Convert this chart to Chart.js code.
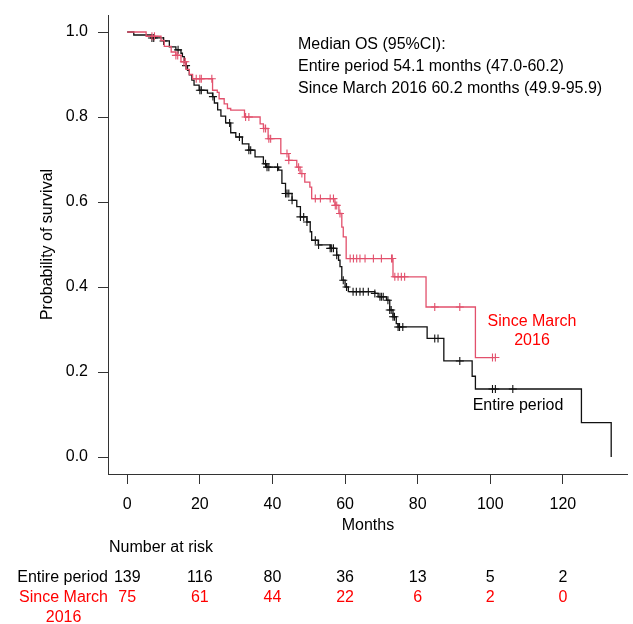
<!DOCTYPE html>
<html>
<head>
<meta charset="utf-8">
<script src="https://cdn.jsdelivr.net/npm/chart.js@4.4.1/dist/chart.umd.min.js"></script>
<style>
html,body{margin:0;padding:0;background:#fff;}
#wrap{width:633px;height:624px;position:relative;}
</style>
</head>
<body>
<div id="wrap"><canvas id="c" width="633" height="624"></canvas></div>
<script>
// ---- data ----
const entireTimes = [0,1.8,6.6,10.0,11.6,13.4,14.8,15.2,15.7,16.2,16.6,17.1,17.8,18.4,19.8,22.1,23.5,24.0,24.9,25.8,27.1,28.5,29.9,31.7,33.5,35.2,37.5,38.4,41.7,42.6,43.6,45.4,46.7,47.7,49.5,50.4,50.8,52.6,55.9,57.7,58.2,58.6,59.1,60.0,60.9,68.2,69.1,71.4,72.3,73.2,74.1,74.6,82.6,87.2,95.0,95.9,125.1,133.3];
const entireSurv = [1,0.993,0.986,0.979,0.965,0.958,0.950,0.942,0.928,0.921,0.910,0.899,0.887,0.875,0.863,0.856,0.848,0.833,0.817,0.802,0.786,0.763,0.753,0.737,0.722,0.706,0.690,0.682,0.675,0.644,0.620,0.604,0.589,0.565,0.553,0.530,0.510,0.499,0.491,0.475,0.463,0.448,0.416,0.400,0.389,0.385,0.377,0.369,0.346,0.330,0.314,0.306,0.279,0.226,0.190,0.160,0.081,0];
const entireCensor = [6.8,7.3,10.0,14.0,16.2,20.0,20.4,23.6,28.2,30.9,33.5,34.0,38.1,38.5,39.0,41.4,43.6,44.0,44.5,45.4,47.7,48.6,49.5,51.8,52.7,55.9,56.3,56.8,57.7,59.5,60.4,62.2,63.1,64.1,65.0,66.4,68.2,69.6,70.0,70.5,71.8,72.3,72.7,73.2,73.6,74.6,75.0,75.9,84.7,85.6,91.6,100.6,101.4,106.2];

const marchTimes = [0,5.2,9.3,10.2,12.1,13.4,14.8,16.2,17.1,18.0,23.5,24.8,25.3,26.7,27.6,28.5,32.3,36.6,37.5,38.8,42.3,44.5,46.7,47.6,48.9,50.3,50.8,57.2,58.3,59.1,59.5,60.3,73.2,82.3,95.9,101.4];
const marchSurv = [1,0.990,0.980,0.966,0.953,0.945,0.930,0.912,0.900,0.890,0.863,0.858,0.843,0.831,0.820,0.816,0.800,0.784,0.773,0.749,0.714,0.698,0.682,0.667,0.647,0.635,0.608,0.592,0.573,0.541,0.518,0.467,0.424,0.353,0.234,0.234];
const marchCensor = [6.8,7.5,13.4,13.9,15.6,16.0,19.0,20.0,20.4,23.3,32.6,33.5,37.6,38.1,39.0,39.5,44.0,44.5,47.2,48.1,51.8,53.2,55.9,56.8,57.3,57.7,58.6,61.4,62.3,63.2,64.1,65.5,67.8,70.0,72.8,73.0,73.7,74.6,75.5,76.4,84.7,91.6,100.6,101.4];

const xTicks = [0,20,40,60,80,100,120];
const yTicks = [0,0.2,0.4,0.6,0.8,1.0];

const riskTimes = [0,20,40,60,80,100,120];
const riskEntire = [139,116,80,36,13,5,2];
const riskMarch = [75,61,44,22,6,2,0];

const seriesNames = ['Entire period', 'Since March 2016'];
const medianTitle = 'Median OS (95%CI):';
const medianLines = ['Entire period 54.1 months (47.0-60.2)', 'Since March 2016 60.2 months (49.9-95.9)'];

// ---- helpers ----
function stepAt(times, surv, t) {
  let s = surv[0];
  for (let i = 0; i < times.length; i++) { if (times[i] <= t) s = surv[i]; }
  return s;
}
const toPts = (times, surv) => times.map((t, i) => ({x: t, y: surv[i]}));
const censorPts = (c, times, surv) => c.map(t => ({x: t, y: stepAt(times, surv, t)}));

const FONT = '"Liberation Sans", Arial, Helvetica, sans-serif';
const BLACK = '#111111';
const CURVE_RED = '#e2506c';
const TEXT_RED = '#ff0000';

const textPlugin = {
  id: 'kmText',
  afterDraw(chart) {
    const ctx = chart.ctx;
    const xs = chart.scales.x;
    const ca = chart.chartArea;
    ctx.save();
    ctx.font = '16px ' + FONT;
    ctx.textBaseline = 'middle';
    // y title
    ctx.save();
    ctx.translate(48, (ca.top + ca.bottom) / 2);
    ctx.rotate(-Math.PI / 2);
    ctx.textAlign = 'center';
    ctx.fillStyle = '#000';
    ctx.fillText('Probability of survival', 0, 0);
    ctx.restore();
    // x title
    ctx.textAlign = 'center';
    ctx.fillStyle = '#000';
    ctx.fillText('Months', (ca.left + ca.right) / 2, 526);
    // median text
    ctx.textAlign = 'left';
    ctx.fillText(medianTitle, 298, 45);
    ctx.fillText(medianLines[0], 298, 67);
    ctx.fillText(medianLines[1], 298, 89);
    // curve labels
    ctx.textAlign = 'center';
    ctx.fillStyle = TEXT_RED;
    ctx.fillText('Since March', 532, 322);
    ctx.fillText('2016', 532, 341);
    ctx.fillStyle = '#000';
    ctx.fillText(seriesNames[0], 518, 406);
    // number at risk
    ctx.textAlign = 'left';
    ctx.fillText('Number at risk', 109, 548);
    ctx.textAlign = 'right';
    ctx.fillText(seriesNames[0], 108, 578);
    ctx.fillStyle = TEXT_RED;
    ctx.fillText('Since March', 108, 598);
    ctx.textAlign = 'center';
    const w = ctx.measureText('Since March').width;
    ctx.fillText('2016', 108 - w / 2, 618);
    riskTimes.forEach((t, i) => {
      const px = xs.getPixelForValue(t);
      ctx.fillStyle = '#000';
      ctx.fillText(String(riskEntire[i]), px, 578);
      ctx.fillStyle = TEXT_RED;
      ctx.fillText(String(riskMarch[i]), px, 598);
    });
    ctx.restore();
  }
};

new Chart(document.getElementById('c'), {
  type: 'line',
  data: {
    datasets: [
      { label: seriesNames[0], data: toPts(entireTimes, entireSurv), stepped: 'before',
        borderColor: BLACK, borderWidth: 1.3, pointRadius: 0, fill: false, order: 2 },
      { label: seriesNames[1], data: toPts(marchTimes, marchSurv), stepped: 'before',
        borderColor: CURVE_RED, borderWidth: 1.3, pointRadius: 0, fill: false, order: 1 },
      { label: 'censor1', data: censorPts(entireCensor, entireTimes, entireSurv), showLine: false,
        pointStyle: 'cross', pointRadius: 4, pointBorderWidth: 1.1, borderColor: BLACK, backgroundColor: BLACK, order: 2 },
      { label: 'censor2', data: censorPts(marchCensor, marchTimes, marchSurv), showLine: false,
        pointStyle: 'cross', pointRadius: 4, pointBorderWidth: 1.1, borderColor: CURVE_RED, backgroundColor: CURVE_RED, order: 1 }
    ]
  },
  options: {
    responsive: false,
    animation: false,
    devicePixelRatio: 1,
    layout: { padding: { top: 15, right: 2, left: 0, bottom: 0 } },
    plugins: { legend: { display: false }, tooltip: { enabled: false } },
    elements: { point: { hoverRadius: 0 } },
    scales: {
      x: {
        type: 'linear', min: -5.3, max: 137.9,
        afterBuildTicks: s => { s.ticks = xTicks.map(v => ({value: v})); },
        afterFit: s => { s.height = 150; s.paddingLeft = 0; s.paddingRight = 0; },
        grid: { drawOnChartArea: false, drawTicks: true, tickLength: 10, color: '#333', lineWidth: 1 },
        border: { display: true, color: '#333', width: 1 },
        ticks: { font: { family: FONT, size: 16 }, color: '#000', padding: 11, maxRotation: 0, autoSkip: false }
      },
      y: {
        min: -0.04, max: 1.04,
        afterBuildTicks: s => { s.ticks = yTicks.map(v => ({value: v})); },
        afterFit: s => { s.width = 108; s.paddingTop = 0; s.paddingBottom = 0; },
        grid: { drawOnChartArea: false, drawTicks: true, tickLength: 10, color: '#333', lineWidth: 1 },
        border: { display: true, color: '#333', width: 1 },
        ticks: { font: { family: FONT, size: 16 }, color: '#000', padding: 10, callback: v => Number(v).toFixed(1) }
      }
    }
  },
  plugins: [textPlugin]
});
</script>
</body>
</html>
